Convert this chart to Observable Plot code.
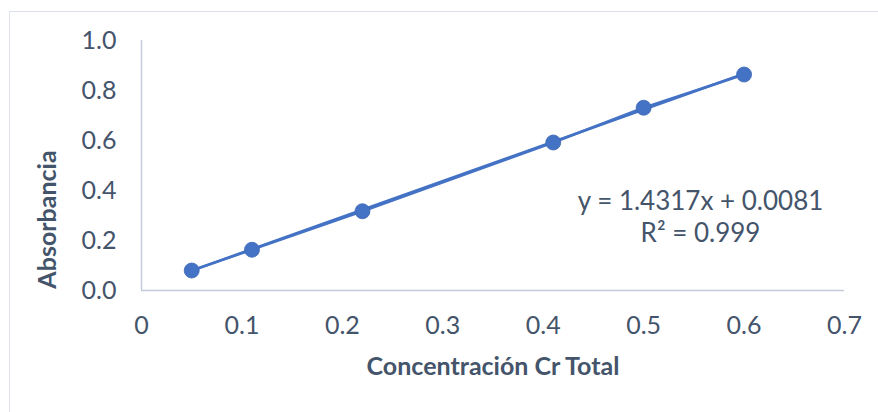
<!DOCTYPE html>
<html>
<head>
<meta charset="utf-8">
<script src="https://cdn.jsdelivr.net/npm/d3@7"></script>
<script src="https://cdn.jsdelivr.net/npm/@observablehq/plot@0.6"></script>
<style>
  html, body { margin: 0; padding: 0; background: #fff; overflow: hidden; }
  #wrap { position: relative; width: 878px; height: 412px; }
  #frame { position: absolute; left: 9px; top: 11px; width: 900px; height: 500px;
           border: 1px solid #dde2ea; pointer-events: none; }
</style>
</head>
<body>
<div id="wrap"><div id="frame"></div></div>
<script>
// Calibration data: total Cr concentration vs. absorbance
const concentracion = [0.05, 0.11, 0.22, 0.41, 0.5, 0.6];
const absorbancia = [0.080, 0.163, 0.317, 0.592, 0.731, 0.864];

// Linear fit shown on the chart
const slope = 1.4317;
const intercept = 0.0081;
const r2 = 0.999;

// Axis ticks and their labels
const xTicks = [0, 0.1, 0.2, 0.3, 0.4, 0.5, 0.6, 0.7];
const xTickLabels = ["0", "0.1", "0.2", "0.3", "0.4", "0.5", "0.6", "0.7"];
const yTicks = [0, 0.2, 0.4, 0.6, 0.8, 1.0];
const yTickLabels = ["0.0", "0.2", "0.4", "0.6", "0.8", "1.0"];

const xTitle = "Concentración Cr Total";
const yTitle = "Absorbancia";

const points = concentracion.map((c, i) => ({x: c, y: absorbancia[i]}));
const fitX = [d3.min(concentracion), d3.max(concentracion)];
const fit = fitX.map(x => ({x, y: slope * x + intercept}));
const equation = `y = ${slope}x + ${intercept}\nR² = ${r2}`;

const textColor = "#44546a";
const axisColor = "#c3cbd8";
const blue = "#4472c4";
const font = "Lato, 'Open Sans', sans-serif";

const chart = Plot.plot({
  width: 878,
  height: 412,
  marginLeft: 141,
  marginRight: 34,
  marginTop: 40,
  marginBottom: 122,
  style: {fontFamily: font, color: textColor, background: "transparent", overflow: "visible"},
  x: {domain: [0, 0.7]},
  y: {domain: [0, 1]},
  marks: [
    Plot.ruleY([0], {stroke: axisColor, strokeWidth: 1.5}),
    Plot.ruleX([0], {stroke: axisColor, strokeWidth: 1.5}),
    Plot.axisX({
      ticks: xTicks,
      tickFormat: d => xTickLabels[xTicks.indexOf(d)],
      tickSize: 0,
      tickPadding: 26,
      fontSize: 25,
      fill: textColor,
      label: null
    }),
    Plot.axisY({
      ticks: yTicks,
      tickFormat: d => yTickLabels[yTicks.indexOf(d)],
      tickSize: 0,
      tickPadding: 25,
      fontSize: 25,
      fill: textColor,
      label: null
    }),
    Plot.line(fit, {x: "x", y: "y", stroke: blue, strokeWidth: 2.5}),
    Plot.line(points, {x: "x", y: "y", stroke: blue, strokeWidth: 2.5}),
    Plot.dot(points, {x: "x", y: "y", r: 7.5, fill: blue, stroke: "#3d67b5", strokeWidth: 0.8}),
    Plot.text([equation], {
      frameAnchor: "top-left",
      dx: 559, dy: 175,
      textAnchor: "middle",
      lineAnchor: "middle",
      lineHeight: 1.25,
      fontSize: 26,
      fill: textColor
    }),
    Plot.text([xTitle], {
      frameAnchor: "bottom",
      dy: 76,
      textAnchor: "middle",
      lineAnchor: "middle",
      fontSize: 25,
      fontWeight: "bold",
      fill: textColor
    }),
    Plot.text([yTitle], {
      frameAnchor: "left",
      dx: -94,
      dy: 54,
      rotate: -90,
      textAnchor: "middle",
      lineAnchor: "middle",
      fontSize: 25,
      fontWeight: "bold",
      fill: textColor
    })
  ]
});

document.getElementById("wrap").prepend(chart);
chart.style.position = "absolute";
chart.style.left = "0";
chart.style.top = "0";
</script>
</body>
</html>
